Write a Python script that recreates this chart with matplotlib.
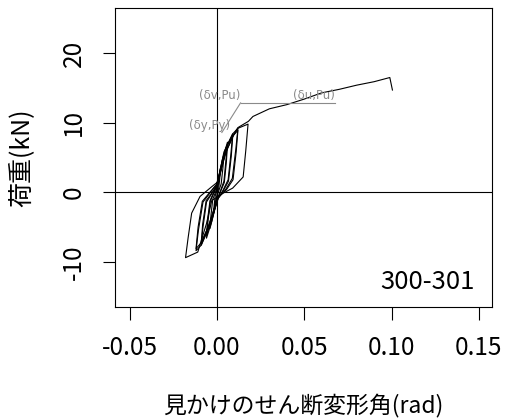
import numpy as np
import matplotlib
matplotlib.use("Agg")
import matplotlib.pyplot as plt

plt.rcParams['font.family'] = ['Noto Sans CJK JP', 'DejaVu Sans']

# hysteresis cycles (shear angle rad, load kN)
cyc1_x = [0.0, 0.001, 0.002, 0.0016, 0.0010, 0.0, -0.001, -0.002, -0.0016, -0.0010, 0.0]
cyc1_y = [0.0, 2.2, 3.5, 2.0, 0.6, -0.4, -1.8, -3.0, -1.8, -0.5, 0.3]

cyc2_x = [0.0, 0.002, 0.004, 0.0034, 0.0024, 0.0010, -0.0005, -0.002, -0.004, -0.0034, -0.0024, -0.0010, 0.0003]
cyc2_y = [0.3, 3.4, 5.5, 3.5, 1.2, 0.2, -1.0, -3.2, -5.2, -3.2, -1.0, -0.1, 1.0]

cyc3_x = [0.0003, 0.003, 0.006, 0.0052, 0.0040, 0.0020, 0.0, -0.003, -0.006, -0.0052, -0.0038, -0.0018, 0.0]
cyc3_y = [1.0, 4.6, 7.2, 4.8, 1.6, 0.2, -1.2, -4.2, -6.6, -4.3, -1.3, -0.1, 1.0]

cyc3b_x = [0.0, 0.003, 0.006, 0.0054, 0.0042, 0.0022, 0.0002, -0.003, -0.006, -0.0054, -0.0040, -0.0020, 0.0]
cyc3b_y = [1.0, 4.2, 6.8, 4.4, 1.4, 0.2, -1.0, -3.8, -6.2, -4.0, -1.2, -0.1, 1.0]

cyc4_x = [0.0, 0.004, 0.009, 0.0080, 0.0064, 0.0035, 0.0005, -0.004, -0.009, -0.0080, -0.0060, -0.0030, 0.0005]
cyc4_y = [1.0, 5.8, 8.4, 5.6, 1.8, 0.3, -1.0, -4.8, -7.6, -5.0, -1.4, -0.2, 1.2]

cyc4b_x = [0.0005, 0.0045, 0.009, 0.0082, 0.0066, 0.0038, 0.0008, -0.0038, -0.009, -0.0082, -0.0062, -0.0032, 0.0005]
cyc4b_y = [1.2, 5.4, 8.0, 5.2, 1.6, 0.3, -0.8, -4.4, -7.2, -4.6, -1.2, -0.2, 1.2]

cyc5_x = [0.0005, 0.005, 0.009, 0.012, 0.0108, 0.0088, 0.0050, 0.0, -0.005, -0.009, -0.012, -0.0106, -0.0080, -0.0040, 0.0]
cyc5_y = [1.2, 6.3, 8.4, 9.2, 6.2, 2.0, 0.4, -1.0, -5.0, -7.6, -8.4, -5.4, -1.4, -0.1, 1.2]

cyc5b_x = [0.0, 0.0055, 0.0095, 0.012, 0.011, 0.0092, 0.0055, 0.0005, -0.0045, -0.0088, -0.012, -0.0108, -0.0084, -0.0044, 0.0]
cyc5b_y = [1.2, 6.0, 8.2, 8.9, 5.8, 1.8, 0.4, -0.8, -4.6, -7.2, -8.1, -5.0, -1.3, -0.1, 1.2]

cyc6_x = [0.0, 0.006, 0.012, 0.0178, 0.0165, 0.015, 0.009, 0.003, -0.003, -0.006, -0.011, -0.018,
          -0.0165, -0.0145, -0.0097, -0.003, 0.0]
cyc6_y = [1.2, 6.8, 9.2, 9.8, 6.0, 2.2, 0.6, -0.2, -1.2, -4.5, -8.6, -9.4,
          -6.5, -3.0, -0.6, 0.8, 1.4]

final_x = [0.0, 0.006, 0.012, 0.018, 0.0206, 0.03, 0.04, 0.05, 0.06, 0.07, 0.08, 0.09, 0.099, 0.1005]
final_y = [1.4, 6.8, 9.3, 10.2, 10.9, 12.0, 12.6, 13.4, 14.3, 14.8, 15.4, 15.9, 16.5, 14.7]

# evaluation points
dy, Py = 0.0028, 8.6
dv, du, Pu = 0.0135, 0.0676, 12.85

xticks = [-0.05, 0.00, 0.05, 0.10, 0.15]
yticks = [-10, 0, 10, 20]

fig = plt.figure(figsize=(5.08, 4.2), dpi=100)
ax = fig.add_axes([0.2264, 0.269, 0.742, 0.712])

ax.axvline(0, color='black', lw=0.8)
ax.axhline(0, color='black', lw=0.8)

for cx, cy in [(cyc1_x, cyc1_y), (cyc2_x, cyc2_y), (cyc3_x, cyc3_y), (cyc3b_x, cyc3b_y),
               (cyc4_x, cyc4_y), (cyc4b_x, cyc4b_y), (cyc5_x, cyc5_y), (cyc5b_x, cyc5b_y),
               (cyc6_x, cyc6_y), (final_x, final_y)]:
    ax.plot(cx, cy, color='black', lw=0.8)

grey = '#8a8a8a'
ax.plot([dy, dv], [Py, Pu], color=grey, lw=0.8)
ax.plot([dv, du], [Pu, Pu], color=grey, lw=0.8)
ax.text(dv, Pu + 0.1, '(δv,Pu)', color=grey, fontsize=8.5, ha='right', va='bottom',
        family=['DejaVu Sans'])
ax.text(du, Pu + 0.1, '(δu,Pu)', color=grey, fontsize=8.5, ha='right', va='bottom',
        family=['DejaVu Sans'])
ax.text(dy + 0.0045, Py, '(δy,Py)', color=grey, fontsize=8.5, ha='right', va='bottom',
        family=['DejaVu Sans'])

ax.text(0.955, 0.085, '300-301', transform=ax.transAxes, ha='right', va='center', fontsize=18.5)

ax.set_xlim(-0.0584, 0.1575)
ax.set_ylim(-16.5, 26.5)
ax.set_xticks(xticks)
ax.set_xticklabels(['%.2f' % v for v in xticks])
ax.set_yticks(yticks)
ax.set_yticklabels([str(v) for v in yticks], rotation=90, va='center')
ax.tick_params(length=9, width=0.8, labelsize=17.5, pad=11)
for s in ax.spines.values():
    s.set_linewidth(0.8)

ax.set_xlabel('見かけのせん断変形角(rad)', fontsize=16.5, labelpad=24)
ax.set_ylabel('荷重(kN)', fontsize=18, labelpad=19)

fig.savefig('out.png', dpi=100)
